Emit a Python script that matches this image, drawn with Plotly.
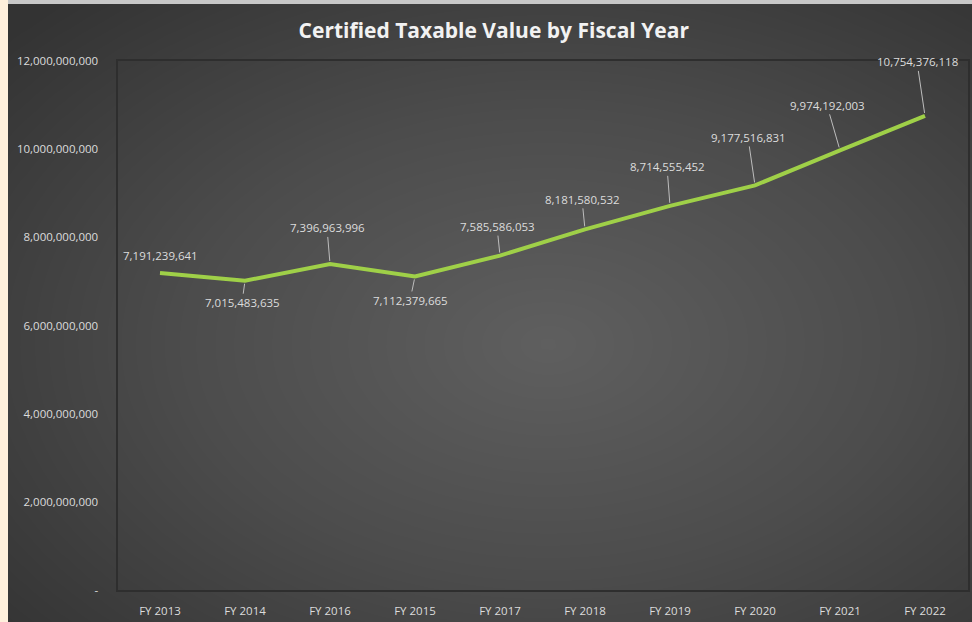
import numpy as np
import plotly.graph_objects as go

# Certified taxable value per fiscal year (categories in the order reported)
years = ["FY 2013", "FY 2014", "FY 2016", "FY 2015", "FY 2017",
         "FY 2018", "FY 2019", "FY 2020", "FY 2021", "FY 2022"]
values = [7191239641, 7015483635, 7396963996, 7112379665, 7585586053,
          8181580532, 8714555452, 9177516831, 9974192003, 10754376118]

y_ticks = [0, 2e9, 4e9, 6e9, 8e9, 10e9, 12e9]
y_tick_text = ["-", "2,000,000,000", "4,000,000,000", "6,000,000,000",
               "8,000,000,000", "10,000,000,000", "12,000,000,000"]

# Label offsets (pixels) from each point to its data label
label_dx = [0, -3, -3, -5, -3, -3, -3, -7, -13, -8]
label_dy = [-17, 22, -36, 24, -29, -30, -39, -48, -45, -54]

W, H = 972, 622
FONT = "Open Sans"
TXT = "#dcdcdc"

# Radial dark-gray backdrop (grid runs slightly past the visible range)
gx = np.linspace(-0.05, 1.05, 130)
gy = np.linspace(-0.05, 1.05, 90)
XX, YY = np.meshgrid(gx, gy)
rr = np.sqrt(((XX - 0.56) / 0.75) ** 2 + ((YY - 0.45) / 0.75) ** 2)
bg = np.clip(rr, 0, 1)

fig = go.Figure()
fig.add_trace(go.Heatmap(
    x=gx, y=gy, z=bg, zsmooth="best", showscale=False, hoverinfo="skip",
    colorscale=[[0, "#5f5f5f"], [0.5, "#4c4c4c"], [1, "#333333"]],
    zmin=0, zmax=1, xaxis="x", yaxis="y",
))

fig.add_trace(go.Scatter(
    x=years, y=values, mode="lines",
    line=dict(color="#9fd048", width=4),
    xaxis="x2", yaxis="y2", hoverinfo="x+y",
))

annotations = []
for yr, v, dx, dy in zip(years, values, label_dx, label_dy):
    txt = f"{v:,}"
    if dx == 0 and abs(dy) < 20:
        annotations.append(dict(
            x=yr, y=v, xref="x2", yref="y2", text=txt, showarrow=False,
            yshift=-dy, xshift=dx, font=dict(family=FONT, size=11.5, color=TXT),
        ))
    else:
        annotations.append(dict(
            x=yr, y=v, xref="x2", yref="y2", text=txt, showarrow=True,
            ax=dx, ay=dy, arrowhead=0, arrowwidth=1, arrowcolor="#bdbdbd",
            standoff=3, font=dict(family=FONT, size=11.5, color=TXT),
            borderpad=1,
        ))

left, right = 117.5 / W, 967.5 / W
bottom, top = (H - 590) / H, (H - 61) / H

fig.update_layout(
    width=W, height=H,
    margin=dict(l=0, r=0, t=0, b=0, autoexpand=False),
    paper_bgcolor="#fff0dc",
    plot_bgcolor="rgba(0,0,0,0)",
    showlegend=False,
    xaxis=dict(domain=[8 / W, 1], range=[0, 1], visible=False,
               fixedrange=True, automargin=False),
    yaxis=dict(domain=[0, 1 - 4 / H], range=[0, 1], visible=False,
               fixedrange=True, automargin=False),
    xaxis2=dict(
        domain=[left, right], anchor="y2", type="category",
        range=[-0.5, len(years) - 0.5], automargin=False,
        showgrid=False, zeroline=False,
        showline=True, linecolor="#2e2e2e", linewidth=2, mirror=True,
        ticks="", ticklabelstandoff=9,
        tickfont=dict(family=FONT, size=11.5, color=TXT),
    ),
    yaxis2=dict(
        domain=[bottom, top], anchor="x2", range=[0, 12e9], automargin=False,
        tickvals=y_ticks, ticktext=y_tick_text,
        showgrid=False, zeroline=False,
        showline=True, linecolor="#2e2e2e", linewidth=2, mirror=True,
        ticks="", ticklabelstandoff=15,
        tickfont=dict(family=FONT, size=11.5, color=TXT),
    ),
    title=dict(
        text="<b>Certified Taxable Value by Fiscal Year</b>",
        x=0.508, xanchor="center", y=1 - 31 / H, yanchor="middle",
        font=dict(family=FONT, size=21, color="#f2f2f2"),
        automargin=False,
    ),
    annotations=annotations,
    shapes=[dict(type="rect", xref="paper", yref="paper",
                 x0=8 / W, x1=1, y0=1 - 4 / H, y1=1,
                 fillcolor="#c8c8c8", line_width=0, layer="above")],
)

fig.write_html("out.html")
